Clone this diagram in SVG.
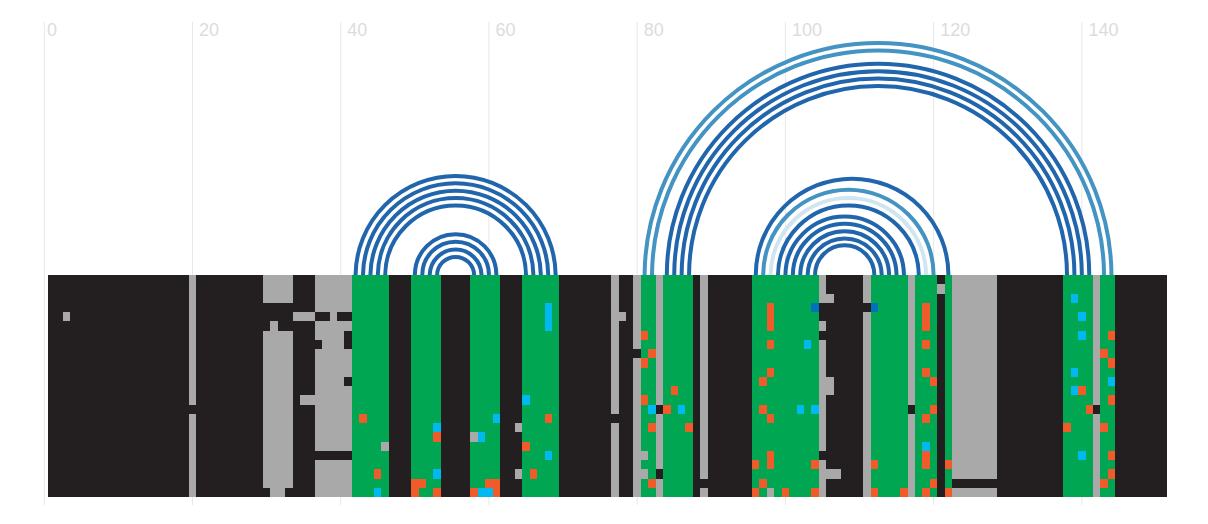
<svg xmlns="http://www.w3.org/2000/svg" width="1208" height="524" viewBox="0 0 1208 524">
<style>
.grid{stroke:#e8e8e8;stroke-width:1}
.lbl{font-family:"Liberation Sans",Arial,sans-serif;font-size:18px;fill:#dcdcdc}
.d{fill:#231f20}.g{fill:#a9a9a9}.G{fill:#00a651}.o{fill:#f15a29}.c{fill:#00b9f1}.b{fill:#0072bc}
.arc{fill:none;stroke-width:4}
.a1{stroke:#2166ac}.a2{stroke:#4393c3}.a3{stroke:#d1e5f0}
</style>
<rect width="1208" height="524" fill="#ffffff"/>
<g id="axis">
<line class="grid" x1="44.3" y1="22" x2="44.3" y2="505"/>
<line class="grid" x1="192.5" y1="22" x2="192.5" y2="505"/>
<line class="grid" x1="340.7" y1="22" x2="340.7" y2="505"/>
<line class="grid" x1="488.9" y1="22" x2="488.9" y2="505"/>
<line class="grid" x1="637.2" y1="22" x2="637.2" y2="505"/>
<line class="grid" x1="785.4" y1="22" x2="785.4" y2="505"/>
<line class="grid" x1="933.6" y1="22" x2="933.6" y2="505"/>
<line class="grid" x1="1081.8" y1="22" x2="1081.8" y2="505"/>
<text class="lbl" x="47" y="35.5">0</text>
<text class="lbl" x="199" y="35.5">20</text>
<text class="lbl" x="347.2" y="35.5">40</text>
<text class="lbl" x="495.4" y="35.5">60</text>
<text class="lbl" x="643.7" y="35.5">80</text>
<text class="lbl" x="792" y="35.5">100</text>
<text class="lbl" x="940.2" y="35.5">120</text>
<text class="lbl" x="1088.4" y="35.5">140</text>
</g>
<g id="matrix" transform="translate(48,275) scale(7.411,9.25)" shape-rendering="crispEdges">
<rect class="d" x="0" y="0" width="151" height="24"/>
<rect class="g" x="2" y="4" width="1" height="1"/>
<rect class="g" x="19" y="0" width="1" height="14"/>
<rect class="g" x="19" y="15" width="1" height="9"/>
<rect class="g" x="29" y="0" width="4" height="3"/>
<rect class="g" x="30" y="5" width="1" height="1"/>
<rect class="g" x="29" y="6" width="4" height="17"/>
<rect class="g" x="30" y="23" width="2" height="1"/>
<rect class="g" x="33" y="4" width="3" height="1"/>
<rect class="g" x="34" y="13" width="2" height="1"/>
<rect class="g" x="36" y="0" width="5" height="4"/>
<rect class="g" x="38" y="4" width="1" height="1"/>
<rect class="g" x="36" y="5" width="5" height="14"/>
<rect class="g" x="36" y="20" width="5" height="4"/>
<rect class="d" x="40" y="6" width="1" height="2"/>
<rect class="d" x="36" y="7" width="1" height="1"/>
<rect class="d" x="40" y="11" width="1" height="1"/>
<rect class="G" x="41" y="0" width="5" height="24"/>
<rect class="G" x="49" y="0" width="4" height="24"/>
<rect class="G" x="57" y="0" width="4" height="24"/>
<rect class="G" x="64" y="0" width="5" height="24"/>
<rect class="g" x="76" y="0" width="1" height="15"/>
<rect class="g" x="76" y="16" width="1" height="8"/>
<rect class="g" x="77" y="4" width="1" height="1"/>
<rect class="g" x="79" y="0" width="1" height="8"/>
<rect class="g" x="79" y="9" width="1" height="15"/>
<rect class="G" x="80" y="0" width="2" height="24"/>
<rect class="g" x="80" y="19" width="1" height="1"/>
<rect class="g" x="80" y="21" width="1" height="1"/>
<rect class="g" x="82" y="0" width="1" height="14"/>
<rect class="g" x="82" y="15" width="1" height="6"/>
<rect class="g" x="82" y="22" width="1" height="2"/>
<rect class="G" x="83" y="0" width="4" height="24"/>
<rect class="g" x="88" y="0" width="1" height="22"/>
<rect class="g" x="88" y="23" width="1" height="1"/>
<rect class="G" x="95" y="0" width="9" height="24"/>
<rect class="g" x="104" y="0" width="1" height="3"/>
<rect class="g" x="105" y="2" width="1" height="1"/>
<rect class="g" x="104" y="5" width="1" height="1"/>
<rect class="g" x="104" y="7" width="1" height="12"/>
<rect class="g" x="105" y="11" width="1" height="2"/>
<rect class="g" x="104" y="20" width="1" height="4"/>
<rect class="g" x="105" y="21" width="2" height="1"/>
<rect class="g" x="110" y="0" width="1" height="3"/>
<rect class="g" x="110" y="4" width="1" height="20"/>
<rect class="G" x="111" y="0" width="5" height="24"/>
<rect class="g" x="116" y="0" width="1" height="14"/>
<rect class="g" x="116" y="15" width="1" height="9"/>
<rect class="G" x="117" y="0" width="3" height="24"/>
<rect class="g" x="120" y="1" width="1" height="1"/>
<rect class="G" x="121" y="0" width="1" height="24"/>
<rect class="g" x="122" y="0" width="6" height="22"/>
<rect class="g" x="122" y="23" width="6" height="1"/>
<rect class="G" x="137" y="0" width="4" height="24"/>
<rect class="g" x="141" y="0" width="1" height="14"/>
<rect class="g" x="141" y="15" width="1" height="9"/>
<rect class="G" x="142" y="0" width="2" height="24"/>
<g class="o">
<rect x="42" y="15" width="1" height="1"/><rect x="44" y="21" width="1" height="1"/><rect x="52" y="17" width="1" height="1"/><rect x="49" y="22" width="2" height="1"/><rect x="49" y="23" width="1" height="1"/><rect x="52" y="23" width="1" height="1"/><rect x="59" y="22" width="2" height="1"/><rect x="57" y="23" width="1" height="1"/><rect x="60" y="23" width="1" height="1"/><rect x="67" y="15" width="1" height="1"/><rect x="64" y="18" width="1" height="1"/><rect x="65" y="21" width="1" height="1"/>
<rect x="80" y="6" width="1" height="1"/><rect x="81" y="8" width="1" height="1"/><rect x="80" y="9" width="1" height="1"/><rect x="84" y="12" width="1" height="1"/><rect x="80" y="13" width="1" height="1"/><rect x="83" y="14" width="1" height="1"/><rect x="81" y="16" width="1" height="1"/><rect x="86" y="16" width="1" height="1"/><rect x="81" y="22" width="1" height="1"/>
<rect x="97" y="3" width="1" height="3"/><rect x="97" y="7" width="1" height="1"/><rect x="97" y="10" width="1" height="1"/><rect x="96" y="11" width="1" height="1"/><rect x="96" y="14" width="1" height="1"/><rect x="97" y="15" width="1" height="1"/><rect x="97" y="19" width="1" height="2"/><rect x="95" y="20" width="1" height="1"/><rect x="103" y="20" width="1" height="1"/><rect x="96" y="22" width="1" height="1"/><rect x="95" y="23" width="1" height="1"/><rect x="99" y="23" width="1" height="1"/><rect x="103" y="23" width="1" height="1"/>
<rect x="111" y="20" width="1" height="1"/><rect x="111" y="23" width="1" height="1"/><rect x="115" y="23" width="1" height="1"/>
<rect x="118" y="3" width="1" height="3"/><rect x="118" y="7" width="1" height="1"/><rect x="118" y="10" width="1" height="1"/><rect x="119" y="11" width="1" height="1"/><rect x="119" y="14" width="1" height="1"/><rect x="118" y="15" width="1" height="1"/><rect x="118" y="19" width="1" height="2"/><rect x="119" y="22" width="1" height="1"/><rect x="118" y="23" width="1" height="1"/><rect x="121" y="20" width="1" height="1"/><rect x="121" y="23" width="1" height="1"/>
<rect x="143" y="6" width="1" height="1"/><rect x="142" y="8" width="1" height="1"/><rect x="143" y="9" width="1" height="1"/><rect x="139" y="12" width="1" height="1"/><rect x="143" y="13" width="1" height="1"/><rect x="140" y="14" width="1" height="1"/><rect x="137" y="16" width="1" height="1"/><rect x="142" y="16" width="1" height="1"/><rect x="143" y="19" width="1" height="1"/><rect x="143" y="21" width="1" height="1"/><rect x="142" y="22" width="1" height="1"/>
</g>
<g class="c">
<rect x="67" y="3" width="1" height="3"/><rect x="44" y="23" width="1" height="1"/><rect x="52" y="16" width="1" height="1"/><rect x="52" y="21" width="1" height="1"/><rect x="60" y="15" width="1" height="1"/><rect x="58" y="17" width="1" height="1"/><rect x="58" y="23" width="2" height="1"/><rect x="64" y="13" width="1" height="1"/><rect x="67" y="19" width="1" height="1"/>
<rect x="81" y="14" width="1" height="1"/><rect x="85" y="14" width="1" height="1"/><rect x="102" y="7" width="1" height="1"/><rect x="101" y="14" width="1" height="1"/><rect x="103" y="14" width="1" height="1"/>
<rect x="118" y="18" width="1" height="1"/>
<rect x="138" y="2" width="1" height="1"/><rect x="139" y="4" width="1" height="1"/><rect x="139" y="6" width="1" height="1"/><rect x="138" y="10" width="1" height="1"/><rect x="143" y="11" width="1" height="1"/><rect x="138" y="12" width="1" height="1"/><rect x="139" y="19" width="1" height="1"/>
</g>
<g class="g">
<rect x="45" y="18" width="1" height="1"/><rect x="57" y="17" width="1" height="1"/><rect x="63" y="16" width="1" height="1"/><rect x="63" y="21" width="1" height="1"/><rect x="97" y="23" width="1" height="1"/>
</g>
<g class="b">
<rect x="103" y="3" width="1" height="1"/><rect x="111" y="3" width="1" height="1"/>
</g>
</g>
<g id="arcs">
<path class="arc a1" d="M355.56 275A100.05 100.05 0 0 1 555.65 275"/>
<path class="arc a1" d="M362.97 275A92.64 92.64 0 0 1 548.24 275"/>
<path class="arc a1" d="M370.38 275A85.23 85.23 0 0 1 540.83 275"/>
<path class="arc a1" d="M377.79 275A77.82 77.82 0 0 1 533.42 275"/>
<path class="arc a1" d="M385.20 275A70.41 70.41 0 0 1 526.01 275"/>
<path class="arc a1" d="M414.85 275A40.76 40.76 0 0 1 496.37 275"/>
<path class="arc a1" d="M422.26 275A33.35 33.35 0 0 1 488.96 275"/>
<path class="arc a1" d="M429.67 275A25.94 25.94 0 0 1 481.54 275"/>
<path class="arc a1" d="M437.08 275A18.53 18.53 0 0 1 474.13 275"/>
<path class="arc a2" d="M644.59 275A233.45 233.45 0 0 1 1111.48 275"/>
<path class="arc a2" d="M652.00 275A226.04 226.04 0 0 1 1104.07 275"/>
<path class="arc a1" d="M666.82 275A211.21 211.21 0 0 1 1089.25 275"/>
<path class="arc a1" d="M674.23 275A203.80 203.80 0 0 1 1081.84 275"/>
<path class="arc a1" d="M681.64 275A196.39 196.39 0 0 1 1074.42 275"/>
<path class="arc a1" d="M689.05 275A188.98 188.98 0 0 1 1067.01 275"/>
<path class="arc a1" d="M755.75 275A96.34 96.34 0 0 1 948.44 275"/>
<path class="arc a2" d="M763.16 275A85.23 85.23 0 0 1 933.62 275"/>
<path class="arc a3" d="M770.57 275A77.82 77.82 0 0 1 926.20 275"/>
<path class="arc a1" d="M777.98 275A70.41 70.41 0 0 1 918.79 275"/>
<path class="arc a1" d="M785.40 275A59.29 59.29 0 0 1 903.97 275"/>
<path class="arc a1" d="M792.81 275A51.88 51.88 0 0 1 896.56 275"/>
<path class="arc a1" d="M800.22 275A44.47 44.47 0 0 1 889.15 275"/>
<path class="arc a1" d="M807.63 275A37.06 37.06 0 0 1 881.74 275"/>
<path class="arc a1" d="M815.04 275A29.64 29.64 0 0 1 874.33 275"/>
</g>
</svg>
